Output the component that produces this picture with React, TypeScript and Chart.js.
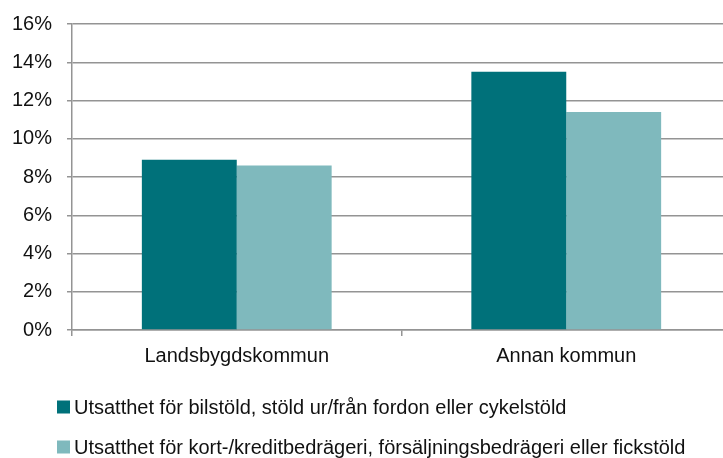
import React, { useEffect, useRef } from 'react';
import { Chart, registerables } from 'chart.js';

Chart.register(...registerables);

const categories = ['Landsbygdskommun', 'Annan kommun'];
const seriesNames = [
  'Utsatthet för bilstöld, stöld ur/från fordon eller cykelstöld',
  'Utsatthet för kort-/kreditbedrägeri, försäljningsbedrägeri eller fickstöld',
];
const vehicleTheft = [8.9, 13.5];
const cardFraud = [8.6, 11.4];
const yMin = 0;
const yMax = 16;
const yStep = 2;

const FONT = '"Liberation Sans", Arial, Helvetica, sans-serif';
const FONT_SIZE = 20;
const DARK = '#00717a';
const LIGHT = '#7fb9bd';
const GRID = '#949494';
const TEXT = '#111111';

const CANVAS_W = 735;
const CANVAS_H = 458;

const legendPlugin = {
  id: 'customLegend',
  afterDraw(chart: any) {
    const ctx = chart.ctx;
    ctx.save();
    ctx.font = `${FONT_SIZE}px ${FONT}`;
    ctx.textBaseline = 'middle';
    ctx.textAlign = 'left';
    chart.data.datasets.forEach((ds: any, i: number) => {
      const y = 407 + i * 40;
      ctx.fillStyle = ds.backgroundColor;
      ctx.fillRect(57, y - 6.5, 13, 13);
      ctx.fillStyle = TEXT;
      ctx.fillText(ds.label, 74, y + 1);
    });
    ctx.restore();
  },
};

export default function App() {
  const ref = useRef<HTMLCanvasElement | null>(null);

  useEffect(() => {
    if (!ref.current) return;
    const chart = new Chart(ref.current, {
      type: 'bar',
      data: {
        labels: categories,
        datasets: [
          { label: seriesNames[0], data: vehicleTheft, backgroundColor: DARK },
          { label: seriesNames[1], data: cardFraud, backgroundColor: LIGHT },
        ],
      },
      plugins: [legendPlugin],
      options: {
        responsive: false,
        animation: false,
        devicePixelRatio: 1,
        layout: { padding: { top: 24, right: CANVAS_W - 731, bottom: 88, left: 0 } },
        datasets: {
          bar: { categoryPercentage: 0.576, barPercentage: 1.0 },
        },
        plugins: {
          legend: { display: false },
          tooltip: { enabled: false },
        },
        scales: {
          x: {
            grid: {
              offset: true,
              drawOnChartArea: false,
              drawTicks: true,
              tickLength: 6,
              color: GRID,
              lineWidth: 1.5,
            },
            border: { display: true, color: GRID, width: 1.5 },
            ticks: {
              color: TEXT,
              font: { family: FONT, size: FONT_SIZE },
              padding: 8,
            },
            afterFit: (scale: any) => {
              scale.height = 40;
              scale.paddingLeft = 0;
              scale.paddingRight = 0;
            },
          },
          y: {
            min: yMin,
            max: yMax,
            ticks: {
              stepSize: yStep,
              color: TEXT,
              font: { family: FONT, size: FONT_SIZE },
              padding: 15,
              callback: (v: any) => `${v}%`,
            },
            grid: {
              color: GRID,
              lineWidth: 1.5,
              tickLength: 5,
              drawTicks: true,
            },
            border: { display: true, color: GRID, width: 1.5 },
            afterFit: (scale: any) => {
              scale.width = 72;
              scale.paddingTop = 0;
              scale.paddingBottom = 0;
            },
          },
        },
      },
    });
    return () => chart.destroy();
  }, []);

  return (
    <div style={{ position: 'fixed', left: 0, top: 0, right: 0, bottom: 0, overflow: 'hidden', background: '#fff' }}>
      <canvas ref={ref} width={CANVAS_W} height={CANVAS_H} style={{ display: 'block', width: CANVAS_W, height: CANVAS_H }} />
    </div>
  );
}
